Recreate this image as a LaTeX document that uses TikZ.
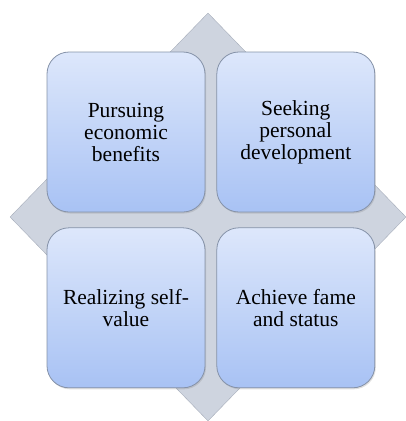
\documentclass[tikz,border=0pt]{standalone}
\usepackage{fontspec}
\setmainfont{Liberation Serif}
\newfontfamily\boxfont{Liberation Serif}
\usepackage{tikz}
\usetikzlibrary{positioning,shapes.geometric,shadows}
\definecolor{BoxTop}{HTML}{DDE7FB}
\definecolor{BoxBottom}{HTML}{A8C2F4}
\definecolor{BoxLine}{HTML}{8592A8}
\definecolor{DiamondFill}{HTML}{CED4DF}
\definecolor{DiamondLine}{HTML}{A6ADBA}

\begin{document}
\begin{tikzpicture}[
  x=1pt,y=-1pt,
  node distance=15pt and 11pt,
  back/.style={draw=DiamondLine,fill=DiamondFill,diamond,inner sep=0pt,minimum width=396pt,minimum height=408pt},
  box/.style={draw=BoxLine,line width=0.8pt,rounded corners=22pt,top color=BoxTop,bottom color=BoxBottom,
    minimum width=158pt,minimum height=160pt,align=center,inner sep=0pt,
    font=\boxfont\fontsize{21.5}{22}\selectfont,
    drop shadow={opacity=0.25,shadow xshift=1pt,shadow yshift=-1.5pt}}
]
\useasboundingbox (0,0) rectangle (406,421);
\node[back] (base) at (208,217) {};
\node[box] (economic) at (126,132) {Pursuing\\economic\\benefits};
\node[box,right=of economic] (develop) {Seeking\\personal\\development};
\node[box,below=of economic] (selfvalue) {Realizing self-\\value};
\node[box,right=of selfvalue] (fame) {Achieve fame\\and status};
\end{tikzpicture}
\end{document}
